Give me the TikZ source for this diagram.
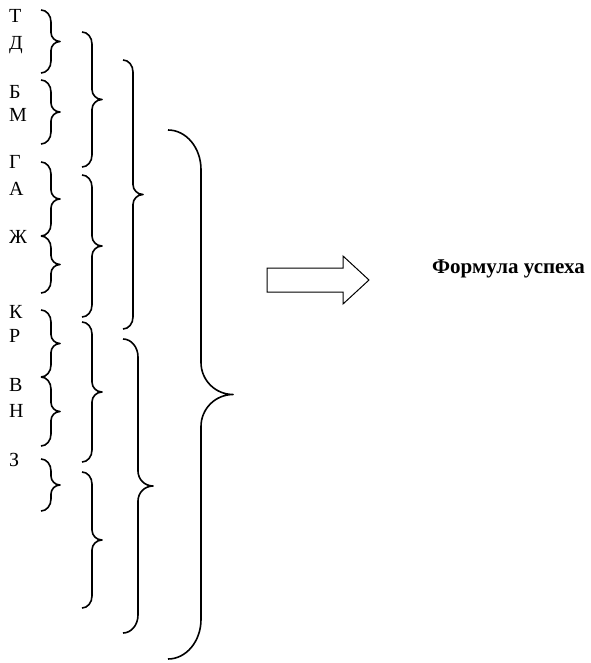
\documentclass[tikz,border=0pt]{standalone}
\usepackage{fontspec}
\setmainfont{Liberation Serif}

% Right-pointing curly brace drawn by hand:
% #1 left end x, #2 stem x, #3 tip x, #4 top y, #5 bottom y (y grows downwards)
\newcommand\rightcurl[5]{%
  \pgfmathsetmacro\hk{1.2*(#2-#1)}%
  \pgfmathsetmacro\tp{#3-#2}%
  \pgfmathsetmacro\md{(#4+#5)/2}%
  \draw[curl] (#1,-#4)
    .. controls ({#1+0.552*(#2-#1)},-#4) and (#2,{-(#4+0.448*\hk)}) .. (#2,{-(#4+\hk)})
    -- (#2,{-(\md-\tp)})
    .. controls (#2,{-(\md-0.448*\tp)}) and ({#3-0.552*\tp},-\md) .. (#3,-\md)
    .. controls ({#3-0.552*\tp},-\md) and (#2,{-(\md+0.448*\tp)}) .. (#2,{-(\md+\tp)})
    -- (#2,{-(#5-\hk)})
    .. controls (#2,{-(#5-0.448*\hk)}) and ({#1+0.552*(#2-#1)},-#5) .. (#1,-#5);
}

\begin{document}
\begin{tikzpicture}[x=1pt,y=1pt,
  curl/.style={line width=1.6pt,line join=round},
  letter/.style={anchor=base west,inner sep=0pt,font=\fontsize{20}{22}\selectfont},
  title/.style={anchor=base west,inner sep=0pt,font=\fontsize{21}{24}\selectfont\bfseries},
  bigarrow/.style={line width=1pt,line join=miter}]
\useasboundingbox (0,0) rectangle (590,-663);

% letters of the left column
\node[letter] (t) at (9,-23)  {Т};
\node[letter] (d) at (9,-50)  {Д};
\node[letter] (b) at (9,-99)  {Б};
\node[letter] (m) at (9,-122) {М};
\node[letter] (g) at (9,-168) {Г};
\node[letter] (a) at (9,-195) {А};
\node[letter] (zh) at (9,-243) {Ж};
\node[letter] (k) at (9,-318) {К};
\node[letter] (r) at (9,-342) {Р};
\node[letter] (v) at (9,-391) {В};
\node[letter] (n) at (9,-417) {Н};
\node[letter] (z) at (9,-466) {З};

% first column of braces
\rightcurl{41}{51}{60}{10}{73}
\rightcurl{41}{51}{60}{80}{144}
\rightcurl{41}{51}{60}{162}{236}
\rightcurl{41}{51}{60}{236}{293}
\rightcurl{41}{51}{60}{310}{377}
\rightcurl{41}{51}{60}{377}{446}
\rightcurl{41}{51}{60}{459}{511}

% second column
\rightcurl{82}{92}{102}{32}{167}
\rightcurl{82}{92}{102}{175}{317}
\rightcurl{82}{92}{102}{322}{462}
\rightcurl{82}{92}{102}{472}{608}

% third column
\rightcurl{123}{133}{143}{60}{329}
\rightcurl{123}{138}{153}{339}{633}

% outer brace
\rightcurl{168}{201}{233}{130}{659}

% block arrow
\draw[bigarrow] (267,-268) -- (343,-268) -- (343,-256) -- (369,-280)
  -- (343,-304) -- (343,-292) -- (267,-292) -- cycle;

\node[title] (result) at (432,-273) {Формула успеха};
\end{tikzpicture}
\end{document}
